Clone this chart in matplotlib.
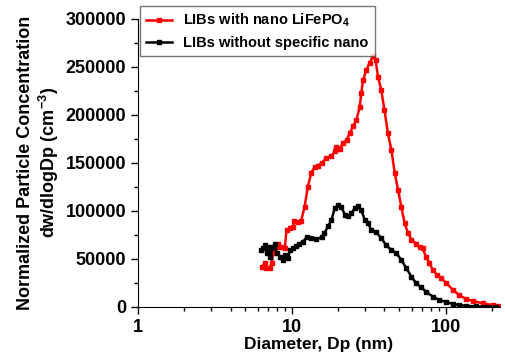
import matplotlib
matplotlib.use("Agg")
import matplotlib.pyplot as plt

plt.rcParams['font.family'] = ['Liberation Sans', 'DejaVu Sans']
plt.rcParams['font.weight'] = 'bold'
plt.rcParams['mathtext.fontset'] = 'custom'
plt.rcParams['mathtext.rm'] = 'Liberation Sans:bold'
plt.rcParams['mathtext.bf'] = 'Liberation Sans:bold'
plt.rcParams['mathtext.default'] = 'bf'

# Diametro (nm) y concentracion - LIBs con nano LiFePO4
d_nano = [6.4, 6.68, 6.8, 7.2, 7.4, 7.56, 7.86, 8.1, 8.55, 9.0, 9.24, 9.7,
          10.2, 10.4, 10.9, 11.5, 12.1, 12.7, 13.4, 14.1, 14.8, 15.6, 16.8,
          18.1, 19.0, 19.5, 20.5, 21.6, 22.7, 23.8, 25.0, 26.3, 27.6, 28.3,
          29.0, 30.5, 32.0, 33.6, 35.0, 36.3, 38.1, 40.0, 42.1, 44.3, 46.6,
          49.0, 51.5, 54.1, 56.9, 59.9, 64.2, 67.6, 71.0, 74.4, 78.3, 82.4,
          88.3, 93.5, 100.8, 111, 122, 135, 150, 174, 202, 218]
c_nano = [42000, 45800, 40600, 40600, 46000, 56000, 62000, 66000, 62000,
          61000, 80000, 82000, 83000, 90000, 88000, 90000, 104000, 125000,
          140000, 146000, 147000, 150000, 155000, 157000, 162000, 167000,
          165000, 171000, 174000, 181000, 188000, 195000, 208000, 223000,
          236000, 247000, 254000, 261000, 257000, 240000, 226000, 205000,
          181000, 164000, 140000, 122000, 104000, 87000, 77000, 70000, 66000,
          62000, 61000, 52000, 46000, 38500, 33000, 30000, 25000, 18000,
          12500, 8500, 6200, 3800, 2000, 1400]

# LIBs sin nano especifico
d_otro = [6.3, 6.5, 6.73, 6.95, 7.1, 7.25, 7.56, 7.8, 7.96, 8.35, 8.8, 9.1,
          9.5, 9.7, 10.2, 10.7, 11.2, 11.8, 12.5, 13.4, 14.4, 15.6, 16.3,
          17.2, 18.1, 19.0, 19.9, 21.0, 22.1, 23.2, 24.4, 25.7, 27.0, 28.3,
          29.8, 31.3, 32.9, 35.4, 38.1, 41.0, 44.3, 47.8, 51.5, 55.5, 59.9,
          64.2, 69.2, 74.4, 82.4, 91, 101, 111, 122, 135, 157, 183, 212]
c_otro = [59000, 61000, 64500, 56000, 62000, 52000, 62000, 66000, 56000,
          52500, 49000, 54500, 51000, 59000, 61000, 63000, 66000, 68000,
          72500, 71500, 70500, 72500, 77000, 84000, 90500, 103000, 106000,
          104500, 96000, 95000, 97500, 103000, 105000, 101000, 90500, 87000,
          80000, 78000, 71500, 64500, 59500, 56000, 49000, 40300, 31600,
          24700, 20500, 16000, 10800, 7300, 5200, 3100, 2100, 1200, 700, 400,
          300]

fig = plt.figure(figsize=(5.05, 3.61), dpi=100)
ax = fig.add_axes([0.273, 0.1496, 0.717, 0.798])

ax.plot(d_nano, c_nano, color='red', lw=1.8, marker='s', ms=2.2,
        label='LIBs with nano LiFePO$_4$')
ax.plot(d_otro, c_otro, color='black', lw=1.8, marker='s', ms=2.2,
        label='LIBs without specific nano')

ax.set_xscale('log')
ax.set_xlim(1, 225)
ax.set_ylim(0, 300000)
ax.set_yticks(range(0, 300001, 50000))
ax.set_yticks(range(25000, 300000, 50000), minor=True)
ax.set_xticks([1, 10, 100])
ax.set_xticklabels(['1', '10', '100'])

ax.spines['top'].set_visible(False)
ax.spines['right'].set_visible(False)
ax.tick_params(which='major', direction='out', length=5, width=1, labelsize=13)
ax.tick_params(which='minor', direction='out', length=3, width=1)

ax.set_xlabel('Diameter, Dp (nm)', fontsize=12.5, fontweight='bold', labelpad=1)
ax.set_ylabel('Normalized Particle Concentration\ndw/dlogDp (cm$^{-3}$)',
              fontsize=13, fontweight='bold', labelpad=3)

leg = ax.legend(loc='upper left', bbox_to_anchor=(0.005, 1.045),
                borderaxespad=0, fancybox=False, handlelength=1.8,
                prop={'weight': 'bold', 'size': 10.5})
leg.get_frame().set_edgecolor('#555555')
leg.get_frame().set_linewidth(1)

plt.savefig("out.png", dpi=100)
